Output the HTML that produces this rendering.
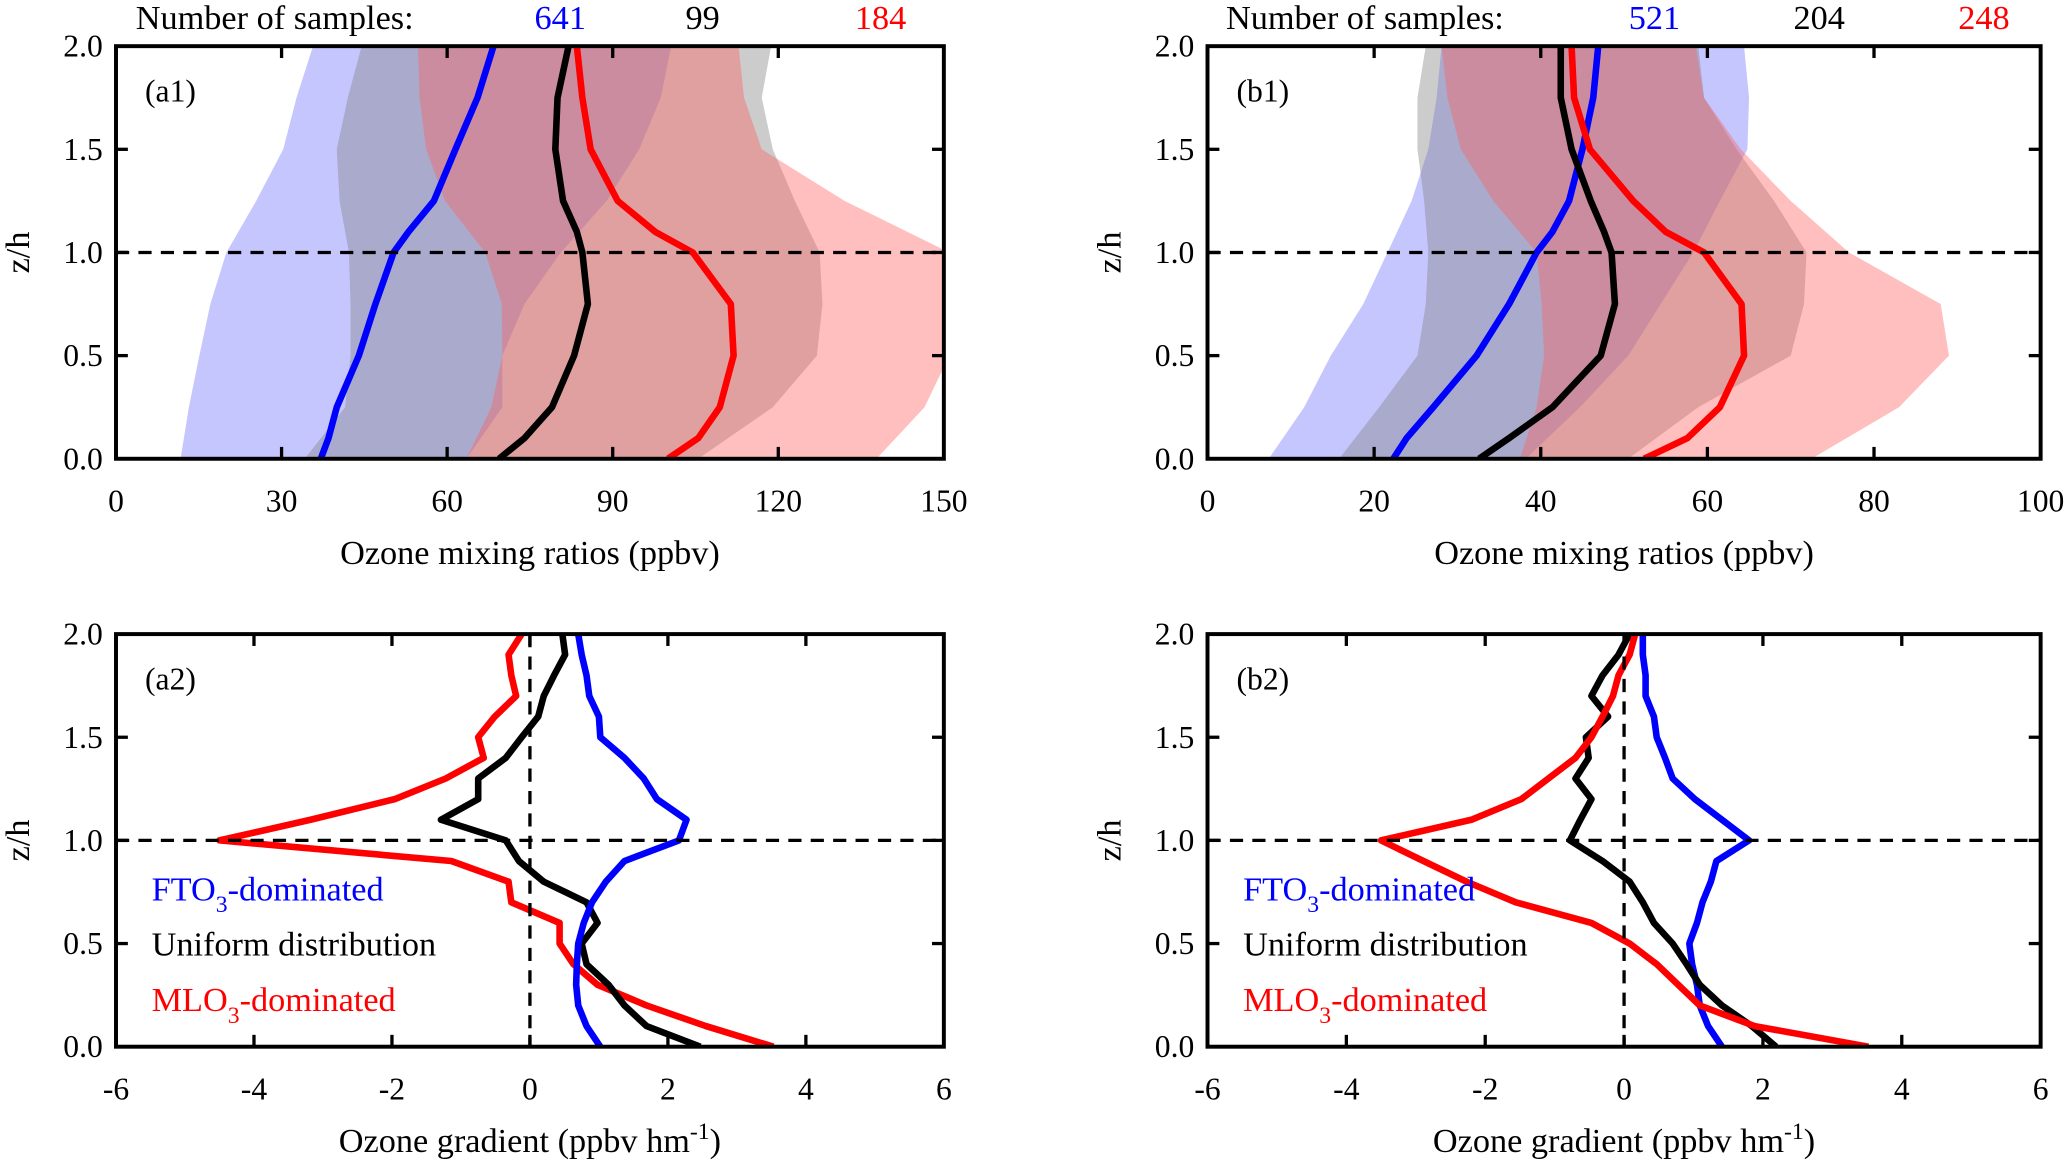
<!DOCTYPE html>
<html><head><meta charset="utf-8"><style>
html,body{margin:0;padding:0;background:#fff;}
svg, svg text{font-family:"Liberation Serif","DejaVu Serif","Times New Roman",serif;}
</style></head><body>
<svg id="fig" width="2067" height="1168" viewBox="0 0 1568 886" xmlns="http://www.w3.org/2000/svg"></svg>
<script>
const zGrad=[0,0.1,0.2,0.3,0.4,0.5,0.6,0.7,0.8,0.9,1.0,1.1,1.2,1.3,1.4,1.5,1.6,1.7,1.8,1.9,2.0];
const zProf=[0,0.1,0.25,0.5,0.75,1,1.1,1.25,1.5,1.75,2];
const zBand=[0,0.25,0.5,0.75,1,1.25,1.5,1.75,2];
// a1
const a1BlueMean=[37.1,38.5,40,44,47,50.3,53,57.6,61.5,65.5,68.4];
const a1BlackMean=[69.4,74,79,83,85.5,84.5,83.5,81,79.6,80,82];
const a1RedMean=[100,105.5,109.4,111.9,111.4,104.5,97.7,90.9,86,84.5,83.5];
const a1BlueLow=[11.7,13.2,15.1,17.1,20,25.4,30.3,32.7,35.7];
const a1BlueHigh=[63.5,70,70,74,80.6,88.9,94.8,98.7,100.6];
const a1GrayLow=[34.2,41.5,42.5,42.5,42.2,40.5,40,42,44.5];
const a1GrayHigh=[105.5,119,127,128,127.5,123,119,117,118.7];
const a1RedLow=[63.5,68,70,69.9,66.9,59.6,56.2,55,54.7];
const a1RedHigh=[137.8,146.5,151,151,151,132,117,113.8,112.8];
// b1
const b1BlueMean=[22.3,23.9,27.1,32.3,36.2,39.5,41.4,43.4,45,46.3,46.9];
const b1BlackMean=[32.6,36.2,41.4,47.2,48.9,48.5,47.6,46,43.7,42.4,42.4];
const b1RedMean=[52.4,57.6,61.5,64.4,64.1,59.6,55,51.1,45.9,44,43.7];
const b1BlueLow=[7.35,11.6,14.8,18.7,21.6,24.5,26.5,27.5,28.1];
const b1BlueHigh=[38.2,44.7,50.5,54.4,58.3,61.5,64.8,65,64.4];
const b1GrayLow=[15.8,20.6,25.2,26.2,26.5,26,25.2,25.2,26.2];
const b1GrayHigh=[50.5,58.9,70,71.6,71.9,68,63.5,59.6,58.9];
const b1RedLow=[37.5,39.5,40.4,40.1,39.5,34.3,30.4,28.8,28.1];
const b1RedHigh=[72.5,83,89,88,77,70,64,59.6,58.6];
// a2
const a2Blue=[1.02,0.82,0.7,0.67,0.68,0.7,0.78,0.9,1.1,1.37,2.16,2.27,1.84,1.65,1.37,1.02,1.0,0.86,0.82,0.75,0.7];
const a2Black=[2.47,1.69,1.37,1.14,0.82,0.75,0.98,0.82,0.2,-0.16,-0.35,-1.29,-0.75,-0.75,-0.35,-0.12,0.12,0.2,0.35,0.51,0.47];
const a2Red=[3.53,2.55,1.69,0.98,0.63,0.43,0.43,-0.27,-0.31,-1.14,-4.5,-3.18,-1.96,-1.22,-0.67,-0.75,-0.51,-0.2,-0.27,-0.31,-0.12];
// b2
const b2Blue=[1.41,1.21,1.09,1.05,0.98,0.94,1.05,1.13,1.25,1.33,1.8,1.41,1.02,0.7,0.59,0.47,0.43,0.31,0.31,0.27,0.27];
const b2Black=[2.19,1.84,1.41,1.09,0.9,0.7,0.43,0.27,0.08,-0.31,-0.78,-0.63,-0.47,-0.7,-0.51,-0.55,-0.23,-0.47,-0.31,-0.08,0.08];
const b2Red=[3.52,1.88,1.09,0.78,0.47,0.08,-0.47,-1.56,-2.27,-2.89,-3.5,-2.2,-1.48,-1.09,-0.7,-0.47,-0.31,-0.16,-0.08,0.08,0.16];
const yTicks=[0,0.5,1.0,1.5,2.0];
const a1XTicks=[0,30,60,90,120,150];
const b1XTicks=[0,20,40,60,80,100];
const gradXTicks=[-6,-4,-2,0,2,4,6];
const a1Counts=["641","99","184"];
const b1Counts=["521","204","248"];

const NS="http://www.w3.org/2000/svg";
const FONT='"Liberation Serif","DejaVu Serif",serif';
const svg=document.getElementById('fig');
function el(tag,attrs,parent){const e=document.createElementNS(NS,tag);for(const k in attrs)e.setAttribute(k,attrs[k]);if(tag==='text')e.setAttribute('font-family',FONT);(parent||svg).appendChild(e);return e;}

function panel(name,x0,x1,y0,y1,xmin,xmax,xticks,label,xtitle,sup){
  const g=el('g',{});
  
  
  const sx=v=>x0+(v-xmin)/(xmax-xmin)*(x1-x0);
  const sy=z=>y1-(z/2)*(y1-y0);
  const cid='clip-'+name;
  const cp=el('clipPath',{id:cid},g);el('rect',{x:x0,y:y0,width:x1-x0,height:y1-y0},cp);
  const plot=el('g',{'clip-path':'url(#'+cid+')'},g);
  
  
  return {g,plot,sx,sy,x0,x1,y0,y1,xticks,label,xtitle,sup,name};
}
function band(P,low,high,color,nm){
  let d='';
  zBand.forEach((z,i)=>{d+=(i?'L':'M')+P.sx(low[i])+','+P.sy(z);});
  for(let i=zBand.length-1;i>=0;i--)d+='L'+P.sx(high[i])+','+P.sy(zBand[i]);
  const p=el('path',{d:d+'Z',fill:color,'fill-opacity':0.4,stroke:'none'},P.plot);
  
  
}
function line(P,zs,vals,color,nm,w){
  const d=vals.map((v,i)=>(i?'L':'M')+P.sx(v)+','+P.sy(zs[i])).join('');
  const p=el('path',{d,fill:'none',stroke:color,'stroke-width':w,'stroke-linejoin':'round'},P.plot);
  
  
}
function frame(P,zeroLine){
  const g=P.g;
  const h=el('line',{x1:P.x0,x2:P.x1,y1:P.sy(1),y2:P.sy(1),stroke:'#000','stroke-width':2.5,'stroke-dasharray':'10,7'},g);
  
  
  if(zeroLine){
    const v=el('line',{x1:P.sx(0),x2:P.sx(0),y1:P.y0,y2:P.y1,stroke:'#000','stroke-width':2.5,'stroke-dasharray':'10,7'},g);
    
    
  }
  const r=el('rect',{x:P.x0,y:P.y0,width:P.x1-P.x0,height:P.y1-P.y0,fill:'none',stroke:'#000','stroke-width':3},g);
  
  
  yTicks.forEach(t=>{
    const y=P.sy(t);
    el('line',{x1:P.x0,x2:P.x0+9,y1:y,y2:y,stroke:'#000','stroke-width':2.5},g);
    el('line',{x1:P.x1,x2:P.x1-9,y1:y,y2:y,stroke:'#000','stroke-width':2.5},g);
    const tx=el('text',{x:P.x0-10,y:y+8,'text-anchor':'end','font-size':24},g);
    tx.textContent=t.toFixed(1);
    
    
  });
  P.xticks.forEach(t=>{
    const x=P.sx(t);
    el('line',{x1:x,x2:x,y1:P.y1,y2:P.y1-9,stroke:'#000','stroke-width':2.5},g);
    el('line',{x1:x,x2:x,y1:P.y0,y2:P.y0+9,stroke:'#000','stroke-width':2.5},g);
    const tx=el('text',{x:x,y:P.y1+40,'text-anchor':'middle','font-size':24},g);
    tx.textContent=String(t);
    
    
  });
  const lb=el('text',{x:P.x0+22,y:P.y0+42,'font-size':24},g);
  lb.textContent=P.label;
  
  
  const xt=el('text',{x:(P.x0+P.x1)/2,y:P.y1+80,'text-anchor':'middle','font-size':26},g);
  xt.textContent=P.xtitle;
  if(P.sup){const s=el('tspan',{dy:-10,'font-size':18},xt);s.textContent=P.sup;const s2=el('tspan',{dy:10},xt);s2.textContent=')';}
  
  
  const yt=el('text',{x:0,y:0,'text-anchor':'middle','font-size':26,transform:`translate(${P.x0-66},${(P.y0+P.y1)/2}) rotate(-90)`},g);
  yt.textContent='z/h';
  
  
}
function counts(x,arr,pos){
  const t=el('text',{x:x,y:22,'font-size':26});
  t.textContent='Number of samples:';
  
  
  const cols=['#0000ff','#000','#ff0000'];
  arr.forEach((c,i)=>{
    const n=el('text',{x:pos[i],y:22,'font-size':26,'text-anchor':'middle',fill:cols[i]});
    n.textContent=c;
    
    
  });
}
function legend(x,y){
  const items=[['FTO','3','-dominated','#0000ff'],['Uniform distribution','','','#000'],['MLO','3','-dominated','#ff0000']];
  items.forEach((it,i)=>{
    const t=el('text',{x:x,y:y+i*42,'font-size':26,fill:it[3]});
    t.textContent=it[0];
    if(it[1]){const s=el('tspan',{dy:9,'font-size':18},t);s.textContent=it[1];const s2=el('tspan',{dy:-9},t);s2.textContent=it[2];}
    
    
  });
}

const A1=panel('panel-a1',88,716,35,348,0,150,a1XTicks,'(a1)','Ozone mixing ratios (ppbv)');
band(A1,a1BlueLow,a1BlueHigh,'#7070ff','a1-fto3-range');
band(A1,a1GrayLow,a1GrayHigh,'#808080','a1-uniform-range');
band(A1,a1RedLow,a1RedHigh,'#ff6060','a1-mlo3-range');
line(A1,zProf,a1BlueMean,'#0000ff','a1-fto3-mean',5);
line(A1,zProf,a1BlackMean,'#000','a1-uniform-mean',5);
line(A1,zProf,a1RedMean,'#ff0000','a1-mlo3-mean',5);
frame(A1,false);

const B1=panel('panel-b1',916,1548,35,348,0,100,b1XTicks,'(b1)','Ozone mixing ratios (ppbv)');
band(B1,b1BlueLow,b1BlueHigh,'#7070ff','b1-fto3-range');
band(B1,b1GrayLow,b1GrayHigh,'#808080','b1-uniform-range');
band(B1,b1RedLow,b1RedHigh,'#ff6060','b1-mlo3-range');
line(B1,zProf,b1BlueMean,'#0000ff','b1-fto3-mean',5);
line(B1,zProf,b1BlackMean,'#000','b1-uniform-mean',5);
line(B1,zProf,b1RedMean,'#ff0000','b1-mlo3-mean',5);
frame(B1,false);

const A2=panel('panel-a2',88,716,481,794,-6,6,gradXTicks,'(a2)','Ozone gradient (ppbv hm','-1');
line(A2,zGrad,a2Red,'#ff0000','a2-mlo3-gradient',5);
line(A2,zGrad,a2Black,'#000','a2-uniform-gradient',5);
line(A2,zGrad,a2Blue,'#0000ff','a2-fto3-gradient',5);
frame(A2,true);

const B2=panel('panel-b2',916,1548,481,794,-6,6,gradXTicks,'(b2)','Ozone gradient (ppbv hm','-1');
line(B2,zGrad,b2Blue,'#0000ff','b2-fto3-gradient',5);
line(B2,zGrad,b2Black,'#000','b2-uniform-gradient',5);
line(B2,zGrad,b2Red,'#ff0000','b2-mlo3-gradient',5);
frame(B2,true);

counts(103,a1Counts,[425,533,668]);
counts(930,b1Counts,[1255,1380,1505]);
legend(115,683);
legend(943,683);
</script>
</body></html>
